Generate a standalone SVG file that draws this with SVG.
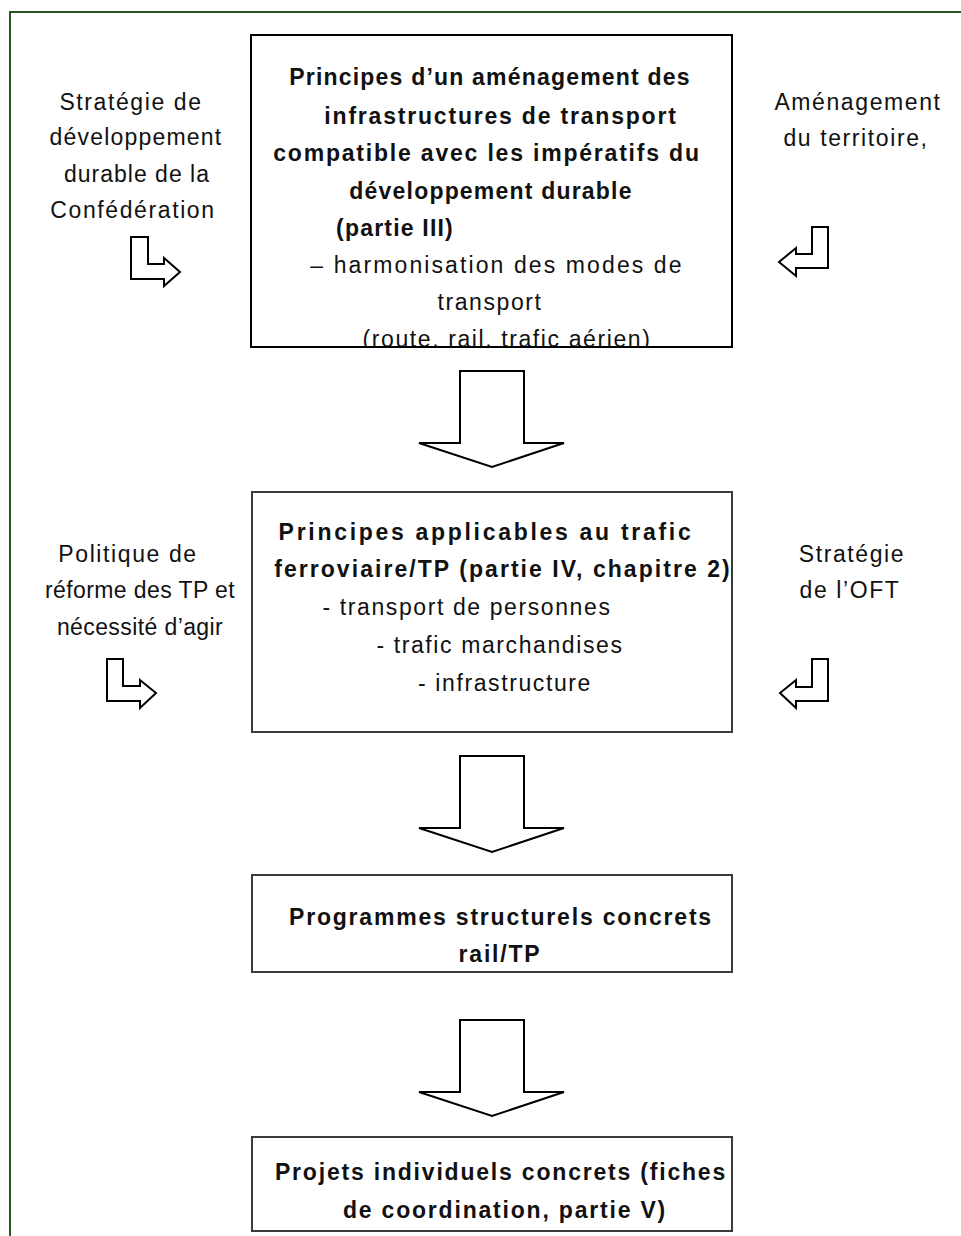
<svg xmlns="http://www.w3.org/2000/svg" width="961" height="1236" viewBox="0 0 961 1236">
  <style>
    .frame { fill: none; stroke: #245a1f; stroke-width: 2; }
    .box { fill: #ffffff; stroke: #3a3a3a; stroke-width: 2; }
    .box1 { fill: none; stroke: #000000; stroke-width: 2; }
    .arrow { fill: #ffffff; stroke: #000000; stroke-width: 2; stroke-linejoin: miter; }
    .t { font-family: "Liberation Sans", Arial, sans-serif; font-size: 23px; fill: #111111; text-anchor: middle; letter-spacing: 1.6px; }
    .b { font-weight: bold; letter-spacing: 1.8px; }
    .b1 { letter-spacing: 1.2px; }
    .tight { letter-spacing: 0.4px; }
  </style>
  <defs>
    <clipPath id="clip-box1">
      <rect x="251" y="35" width="481" height="312"/>
    </clipPath>
  </defs>
  <rect width="961" height="1236" fill="#ffffff"/>

  <!-- page frame (right edge runs off the page) -->
  <path class="frame" d="M10,1236 V12 H961"/>

  <!-- side inputs, upper level -->
  <g id="input-strategie-dd">
    <text class="t" x="131" y="110">Stratégie de</text>
    <text class="t" x="136" y="145" style="letter-spacing:1.2px">développement</text>
    <text class="t" x="137" y="182" style="letter-spacing:1px">durable de la</text>
    <text class="t" x="133" y="218">Confédération</text>
  </g>
  <g id="input-amenagement">
    <text class="t" x="858" y="110">Aménagement</text>
    <text class="t" x="856" y="146">du territoire,</text>
  </g>

  <!-- node 1 -->
  <g id="principes-amenagement">
    <rect x="251" y="35" width="481" height="312" fill="#ffffff"/>
    <g clip-path="url(#clip-box1)">
      <text class="t b b1" x="490" y="85">Principes d’un aménagement des</text>
      <text class="t b" x="501" y="124">infrastructures de transport</text>
      <text class="t b" x="487" y="161">compatible avec les impératifs du</text>
      <text class="t b b1" x="491" y="199">développement durable</text>
      <text class="t b b1" x="395" y="236">(partie III)</text>
      <text class="t" x="497" y="273" style="letter-spacing:2.1px">– harmonisation des modes de</text>
      <text class="t" x="490" y="310">transport</text>
      <text class="t" x="507" y="347">(route, rail, trafic aérien)</text>
    </g>
    <rect class="box1" x="251" y="35" width="481" height="312"/>
  </g>

  <!-- side inputs, lower level -->
  <g id="input-reforme-tp">
    <text class="t" x="128" y="562">Politique de</text>
    <text class="t tight" x="140" y="598">réforme des TP et</text>
    <text class="t tight" x="140" y="635">nécessité d’agir</text>
  </g>
  <g id="input-strategie-oft">
    <text class="t" x="852" y="562">Stratégie</text>
    <text class="t" x="850" y="598">de l’OFT</text>
  </g>

  <!-- node 2 -->
  <g id="principes-ferroviaire">
    <rect class="box" x="252" y="492" width="480" height="240"/>
    <text class="t b" x="486" y="540" style="letter-spacing:2.7px">Principes applicables au trafic</text>
    <text class="t b" x="503" y="577" style="letter-spacing:2.05px">ferroviaire/TP (partie IV, chapitre 2)</text>
    <text class="t" x="467" y="615">- transport de personnes</text>
    <text class="t" x="500" y="653">- trafic marchandises</text>
    <text class="t" x="505" y="691">- infrastructure</text>
  </g>

  <!-- node 3 -->
  <g id="programmes-structurels">
    <rect class="box" x="252" y="875" width="480" height="97"/>
    <text class="t b" x="501" y="925">Programmes structurels concrets</text>
    <text class="t b" x="500" y="962">rail/TP</text>
  </g>

  <!-- node 4 -->
  <g id="projets-individuels">
    <rect class="box" x="252" y="1137" width="480" height="94"/>
    <text class="t b" x="501" y="1180">Projets individuels concrets (fiches</text>
    <text class="t b" x="505" y="1218">de coordination, partie V)</text>
  </g>

  <!-- connectors: block arrows -->
  <g id="connectors">
    <path class="arrow" d="M131,237 H148 V264 H164 V258 L180,272 L164,286 V279 H131 Z"/>
    <path class="arrow" d="M812,227 H828 V268 H796 V276 L779,262 L796,248 V254 H812 Z"/>
    <path class="arrow" d="M107,659 H123 V686 H140 V680 L156,693 L140,708 V701 H107 Z"/>
    <path class="arrow" d="M812,659 H828 V701 H796 V708 L780,693 L796,680 V687 H812 Z"/>
    <path class="arrow" d="M460,371 H524 V443 H564 L492,467 L419,443 H460 Z"/>
    <path class="arrow" d="M460,756 H524 V828 H564 L492,852 L419,828 H460 Z"/>
    <path class="arrow" d="M460,1020 H524 V1092 H564 L492,1116 L419,1092 H460 Z"/>
  </g>
</svg>
